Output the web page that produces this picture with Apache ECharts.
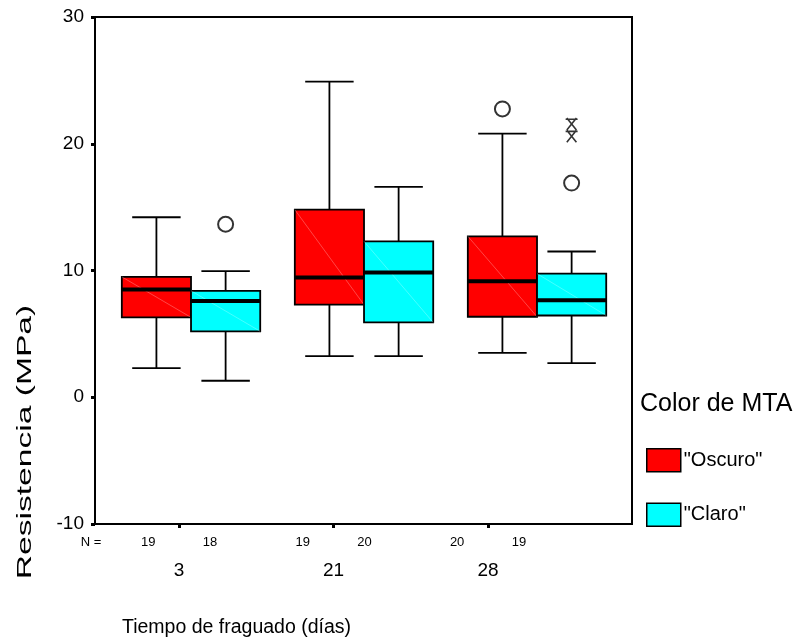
<!DOCTYPE html>
<html>
<head>
<meta charset="utf-8">
<script src="https://cdn.jsdelivr.net/npm/echarts@6/dist/echarts.min.js"></script>
<style>
html, body { margin: 0; padding: 0; background: #fff; }
#chart { width: 794px; height: 644px; }
</style>
</head>
<body>
<div id="chart"></div>
<script>
// data
var days = ['3', '21', '28'];
var groupNames = ['"Oscuro"', '"Claro"'];
// [min, Q1, median, Q3, max]
var oscuro = [
    [2.3, 6.3, 8.5, 9.5, 14.2],
    [3.25, 7.3, 9.45, 14.8, 24.9],
    [3.5, 6.35, 9.15, 12.7, 20.8]
];
var claro = [
    [1.3, 5.2, 7.6, 8.4, 9.95],
    [3.25, 5.9, 9.85, 12.3, 16.6],
    [2.7, 6.45, 7.65, 9.75, 11.5]
];
var nOscuro = [19, 19, 20];
var nClaro = [18, 20, 19];
// [dayIndex, value]
var oscuroOutliers = [[2, 22.75]];
var claroOutliers = [[0, 13.65], [2, 16.9]];
var claroExtremes = [[2, 20.6], [2, 21.55]];

(function () {
    'use strict';
    var chart = echarts.init(document.getElementById('chart'));
    var FONT = '"Liberation Sans", Arial, sans-serif';
    var colors = ['#ff0000', '#00ffff'];
    var shift = [-0.2, 0.2];
    // tick axis (labels / N row) is laid out differently from the boxes in the original
    var tickMin = 0.456, tickMax = 3.932;

    function renderBox(params, api) {
        var x = api.value(0);
        var half = api.size([0.4, 0])[0] / 2;
        var cap = half * 0.7;
        var pMin = api.coord([x, api.value(1)]);
        var pQ1 = api.coord([x, api.value(2)]);
        var pMed = api.coord([x, api.value(3)]);
        var pQ3 = api.coord([x, api.value(4)]);
        var pMax = api.coord([x, api.value(5)]);
        var cx = pMin[0];
        var ln = { stroke: '#000', lineWidth: 1.8 };
        return {
            type: 'group',
            children: [
                { type: 'line', shape: { x1: cx, y1: pMax[1], x2: cx, y2: pQ3[1] }, style: ln },
                { type: 'line', shape: { x1: cx, y1: pQ1[1], x2: cx, y2: pMin[1] }, style: ln },
                { type: 'line', shape: { x1: cx - cap, y1: pMax[1], x2: cx + cap, y2: pMax[1] }, style: ln },
                { type: 'line', shape: { x1: cx - cap, y1: pMin[1], x2: cx + cap, y2: pMin[1] }, style: ln },
                {
                    type: 'rect',
                    shape: { x: cx - half, y: pQ3[1], width: half * 2, height: pQ1[1] - pQ3[1] },
                    style: { fill: api.visual('color'), stroke: '#000', lineWidth: 1.8 }
                },
                {
                    type: 'line',
                    shape: { x1: cx - half, y1: pQ3[1], x2: cx + half, y2: pQ1[1] },
                    style: { stroke: 'rgba(255,255,255,0.35)', lineWidth: 0.8 }
                },
                { type: 'line', shape: { x1: cx - half, y1: pMed[1], x2: cx + half, y2: pMed[1] }, style: { stroke: '#000', lineWidth: 4 } }
            ]
        };
    }

    function boxData(list, g) {
        return list.map(function (b, i) {
            return [i + 1 + shift[g]].concat(b);
        });
    }
    function pointData(list, g) {
        return list.map(function (p) {
            return [p[0] + 1 + shift[g], p[1]];
        });
    }

    var nPos = [tickMin];
    var nText = ['N ='];
    days.forEach(function (d, i) {
        nPos.push(i + 1 - 0.2, i + 1 + 0.2);
        nText.push(String(nOscuro[i]), String(nClaro[i]));
    });

    var asterisk = 'path://M0,1 L10,1 M1,0 L9,10 M9,0 L1,10';

    var option = {
        animation: false,
        textStyle: { fontFamily: FONT, color: '#000' },
        title: [
            { text: 'Tiempo de fraguado (días)', left: 117, top: 613, textStyle: { fontFamily: FONT, fontSize: 19.5, fontWeight: 'normal', color: '#000' } },
            { text: 'Color de MTA', left: 635, top: 387, textStyle: { fontFamily: FONT, fontSize: 25, fontWeight: 'normal', color: '#000' } }
        ],
        // y title is drawn stretched along its length, as in the original
        graphic: [{
            type: 'text',
            x: 25, y: 442,
            rotation: Math.PI / 2,
            scaleX: 1.6,
            style: {
                text: 'Resistencia (MPa)',
                font: '21px ' + FONT,
                fill: '#000',
                align: 'center',
                verticalAlign: 'middle'
            }
        }],
        legend: {
            data: groupNames,
            orient: 'vertical',
            left: 641,
            top: 443,
            itemWidth: 34,
            itemHeight: 23,
            itemGap: 30,
            icon: 'rect',
            itemStyle: { borderColor: '#000', borderWidth: 1.5 },
            textStyle: { fontFamily: FONT, fontSize: 20, color: '#000', padding: [0, 0, 0, -2] }
        },
        grid: {
            left: 95, top: 17, right: 162, bottom: 120,
            show: true, borderColor: '#000', borderWidth: 2
        },
        xAxis: [
            { type: 'value', min: 0.445, max: 3.549, show: false },
            {
                type: 'value', min: tickMin, max: tickMax, position: 'bottom',
                axisLine: { show: false }, splitLine: { show: false },
                axisTick: { show: true, customValues: [1, 2, 3], length: 4, lineStyle: { color: '#000', width: 3 } },
                axisLabel: {
                    customValues: [1, 2, 3], margin: 37, fontSize: 19, color: '#000', fontFamily: FONT,
                    formatter: function (v) { return days[Math.round(v) - 1]; }
                }
            },
            {
                type: 'value', min: tickMin, max: tickMax, position: 'bottom',
                axisLine: { show: false }, axisTick: { show: false }, splitLine: { show: false },
                axisLabel: {
                    customValues: nPos, margin: 12, fontSize: 13, color: '#000', fontFamily: FONT,
                    formatter: function (v) {
                        var i = nPos.indexOf(v);
                        return i === 0 ? '{n|' + nText[0] + '}' : nText[i];
                    },
                    rich: { n: { fontSize: 13, fontFamily: FONT, padding: [0, 8, 0, 0] } }
                }
            }
        ],
        yAxis: {
            type: 'value', min: -10, max: 30, interval: 10,
            axisLine: { show: false }, splitLine: { show: false },
            axisTick: { show: true, length: 4, lineStyle: { color: '#000', width: 3 } },
            axisLabel: { margin: 11, fontSize: 19, color: '#000', fontFamily: FONT }
        },
        series: [
            {
                name: groupNames[0], type: 'custom', renderItem: renderBox,
                itemStyle: { color: colors[0] }, data: boxData(oscuro, 0), z: 2
            },
            {
                name: groupNames[1], type: 'custom', renderItem: renderBox,
                itemStyle: { color: colors[1] }, data: boxData(claro, 1), z: 2
            },
            {
                type: 'scatter', symbol: 'emptyCircle', symbolSize: 15,
                itemStyle: { color: '#000', borderColor: '#000', borderWidth: 1.6 },
                data: pointData(oscuroOutliers, 0).concat(pointData(claroOutliers, 1)), z: 3
            },
            {
                type: 'scatter', symbol: asterisk, symbolSize: 12,
                itemStyle: { color: 'none', borderColor: '#000', borderWidth: 1.6 },
                data: pointData(claroExtremes, 1), z: 3
            }
        ]
    };
    chart.setOption(option);
})();
</script>
</body>
</html>
